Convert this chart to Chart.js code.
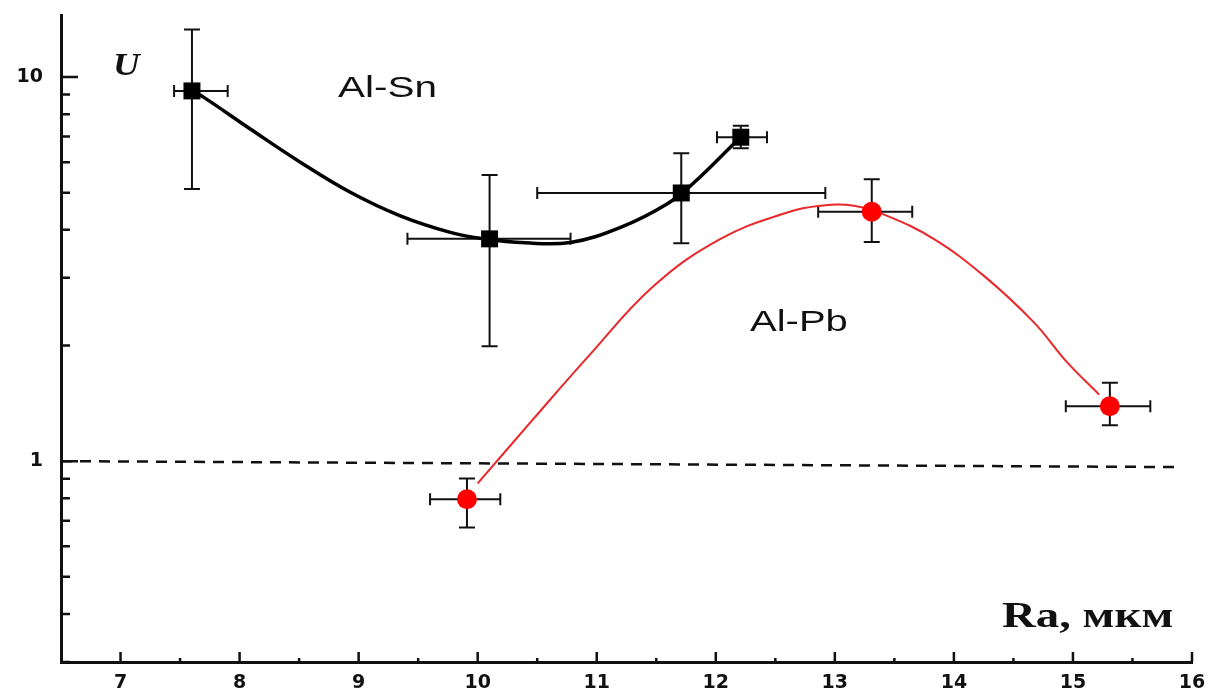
<!DOCTYPE html>
<html>
<head>
<meta charset="utf-8">
<script src="https://cdn.jsdelivr.net/npm/chart.js@4.4.0/dist/chart.umd.min.js"></script>
<style>
  html, body { margin: 0; padding: 0; background: #fff; }
  #wrap { width: 1207px; height: 697px; }
</style>
</head>
<body>
<div id="wrap"><canvas id="myChart" width="1207" height="697"></canvas></div>
<script>
// Al-Sn points with error ranges
const snX = [7.60, 10.10, 11.71, 12.21];
const snY = [9.2, 3.79, 4.99, 6.97];
const snXLow = [7.45, 9.41, 10.50, 12.01];
const snXHigh = [7.90, 10.78, 12.92, 12.43];
const snYLow = [5.11, 1.99, 3.69, 6.52];
const snYHigh = [13.3, 5.56, 6.33, 7.47];

// Al-Pb points with error ranges
const pbX = [9.91, 13.31, 15.31];
const pbY = [0.796, 4.46, 1.39];
const pbXLow = [9.60, 12.86, 14.94];
const pbXHigh = [10.19, 13.65, 15.65];
const pbYLow = [0.672, 3.72, 1.24];
const pbYHigh = [0.901, 5.42, 1.60];

// fitted curves
const snCurveX = [7.60, 7.70, 8.09, 8.51, 8.93, 9.35, 9.77, 10.05, 10.40, 10.78, 11.20, 11.59, 11.82, 12.15, 12.21];
const snCurveY = [9.2, 8.85, 7.32, 6.0, 5.01, 4.35, 3.94, 3.79, 3.70, 3.71, 4.06, 4.67, 5.32, 6.69, 6.97];
const pbCurveX = [10.0, 10.47, 10.92, 11.48, 12.04, 12.60, 12.88, 13.16, 13.44, 13.83, 14.25, 14.67, 14.95, 15.22];
const pbCurveY = [0.875, 1.29, 1.86, 2.86, 3.79, 4.44, 4.62, 4.62, 4.35, 3.79, 3.04, 2.30, 1.81, 1.49];

// reference level U = 1
const refX = [6.5, 15.9];
const refY = [1.0, 0.965];

// ticks
const xMajorTicks = [7, 8, 9, 10, 11, 12, 13, 14, 15, 16];
const xMinorTicks = [7.5, 8.5, 9.5, 10.5, 11.5, 12.5, 13.5, 14.5, 15.5];
const yMajorTicks = [1, 10];
const yMinorTicks = [0.3, 0.4, 0.5, 0.6, 0.7, 0.8, 0.9, 2, 3, 4, 5, 6, 7, 8, 9];

const pts = (xs, ys) => xs.map((v, i) => ({x: v, y: ys[i]}));

const errorBars = {
  id: 'errorBars',
  beforeDatasetsDraw(chart) {
    const {ctx, scales: {x, y}} = chart;
    ctx.save();
    ctx.strokeStyle = '#111';
    ctx.lineWidth = 2;
    [[snX, snY, snXLow, snXHigh, snYLow, snYHigh],
     [pbX, pbY, pbXLow, pbXHigh, pbYLow, pbYHigh]].forEach(([xs, ys, xl, xh, yl, yh]) => {
      xs.forEach((v, i) => {
        const px = x.getPixelForValue(v), py = y.getPixelForValue(ys[i]);
        const x1 = x.getPixelForValue(xl[i]), x2 = x.getPixelForValue(xh[i]);
        const y1 = y.getPixelForValue(yl[i]), y2 = y.getPixelForValue(yh[i]);
        ctx.beginPath();
        ctx.moveTo(x1, py); ctx.lineTo(x2, py);
        ctx.moveTo(x1, py - 6); ctx.lineTo(x1, py + 6);
        ctx.moveTo(x2, py - 6); ctx.lineTo(x2, py + 6);
        ctx.moveTo(px, y1); ctx.lineTo(px, y2);
        ctx.moveTo(px - 8, y1); ctx.lineTo(px + 8, y1);
        ctx.moveTo(px - 8, y2); ctx.lineTo(px + 8, y2);
        ctx.stroke();
      });
    });
    ctx.restore();
  }
};

function stretchText(ctx, txt, x, y, font, sx) {
  ctx.save();
  ctx.translate(x, y);
  ctx.scale(sx, 1);
  ctx.font = font;
  ctx.fillStyle = '#111';
  ctx.textBaseline = 'alphabetic';
  ctx.fillText(txt, 0, 0);
  ctx.restore();
}

const decor = {
  id: 'decor',
  afterDraw(chart) {
    const {ctx, scales: {x, y}, chartArea} = chart;
    ctx.save();
    ctx.strokeStyle = '#111';
    ctx.lineWidth = 2.5;
    ctx.beginPath();
    xMajorTicks.forEach(v => {
      const px = x.getPixelForValue(v);
      ctx.moveTo(px, chartArea.bottom); ctx.lineTo(px, chartArea.bottom - 10);
    });
    xMinorTicks.forEach(v => {
      const px = x.getPixelForValue(v);
      ctx.moveTo(px, chartArea.bottom); ctx.lineTo(px, chartArea.bottom - 4);
    });
    yMajorTicks.forEach(v => {
      const py = y.getPixelForValue(v);
      ctx.moveTo(chartArea.left, py); ctx.lineTo(chartArea.left + 17, py);
    });
    yMinorTicks.forEach(v => {
      const py = y.getPixelForValue(v);
      ctx.moveTo(chartArea.left, py); ctx.lineTo(chartArea.left + 9, py);
    });
    ctx.stroke();
    ctx.restore();

    stretchText(ctx, 'U', 113, 75, 'bold italic 32px "Liberation Serif"', 1.15);
    stretchText(ctx, 'Al-Sn', 338, 97, '30px "Liberation Sans"', 1.35);
    stretchText(ctx, 'Al-Pb', 750, 331, '29px "Liberation Sans"', 1.38);
    stretchText(ctx, 'Ra, мкм', 1002, 627, 'bold 36px "Liberation Serif"', 1.3);
  }
};

new Chart(document.getElementById('myChart'), {
  type: 'scatter',
  data: {
    datasets: [
      {
        label: 'Al-Sn',
        data: pts(snX, snY),
        pointStyle: 'rect',
        pointRadius: 12,
        backgroundColor: '#000',
        borderColor: '#000',
        borderWidth: 0
      },
      {
        label: 'Al-Pb',
        data: pts(pbX, pbY),
        pointStyle: 'circle',
        pointRadius: 10,
        backgroundColor: '#ff0000',
        borderColor: '#ff0000',
        borderWidth: 0
      },
      {
        label: 'Al-Sn fit',
        data: pts(snCurveX, snCurveY),
        showLine: true,
        pointRadius: 0,
        borderColor: '#000',
        borderWidth: 3.5,
        tension: 0.4
      },
      {
        label: 'Al-Pb fit',
        data: pts(pbCurveX, pbCurveY),
        showLine: true,
        pointRadius: 0,
        borderColor: '#e8282a',
        borderWidth: 2,
        tension: 0.4
      },
      {
        label: 'U = 1',
        data: pts(refX, refY),
        showLine: true,
        pointRadius: 0,
        borderColor: '#111',
        borderWidth: 2.5,
        borderDash: [11, 8]
      }
    ]
  },
  options: {
    responsive: false,
    animation: false,
    layout: { padding: { top: 15, right: 15, left: 0, bottom: 0 } },
    plugins: { legend: { display: false }, tooltip: { enabled: false } },
    scales: {
      x: {
        type: 'linear',
        min: 6.5,
        max: 16,
        afterBuildTicks: s => { s.ticks = xMajorTicks.map(v => ({value: v})); },
        afterFit: s => { s.height = 35; s.paddingLeft = 0; s.paddingRight = 0; },
        grid: { display: false, drawTicks: false },
        border: { display: true, width: 3, color: '#111' },
        ticks: {
          autoSkip: false,
          maxRotation: 0,
          padding: 10,
          color: '#111',
          font: { family: '"DejaVu Sans"', size: 19, weight: 'bold' },
          callback: v => String(v)
        }
      },
      y: {
        type: 'logarithmic',
        min: 0.3,
        max: 14.5,
        afterBuildTicks: s => { s.ticks = yMajorTicks.map(v => ({value: v})); },
        afterFit: s => { s.width = 61; s.paddingTop = 0; s.paddingBottom = 0; },
        grid: { display: false, drawTicks: false },
        border: { display: true, width: 3, color: '#111' },
        ticks: {
          autoSkip: false,
          padding: 18,
          color: '#111',
          font: { family: '"DejaVu Sans"', size: 19, weight: 'bold' },
          callback: v => String(v)
        }
      }
    }
  },
  plugins: [errorBars, decor]
});
</script>
</body>
</html>
